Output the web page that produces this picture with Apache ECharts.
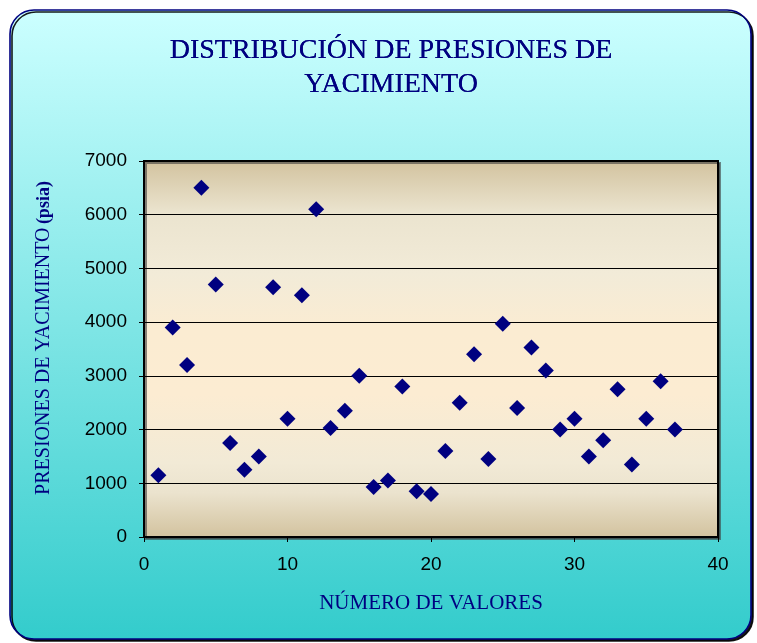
<!DOCTYPE html>
<html>
<head>
<meta charset="utf-8">
<style>
  html, body { margin: 0; padding: 0; background: #ffffff; }
  #chart { width: 757px; height: 643px; }
</style>
<script src="https://cdn.jsdelivr.net/npm/echarts@6/dist/echarts.min.js"></script>
</head>
<body>
<div id="chart"></div>
<script>
// Número de valor (1..37) y presión de yacimiento medida (psia)
const valueNumbers = [1, 2, 3, 4, 5, 6, 7, 8, 9, 10, 11, 12, 13, 14, 15, 16, 17, 18, 19, 20,
  21, 22, 23, 24, 25, 26, 27, 28, 29, 30, 31, 32, 33, 34, 35, 36, 37];
const pressures = [1150, 3900, 3200, 6500, 4700, 1750, 1250, 1500, 4650, 2200,
  4500, 6100, 2030, 2350, 3000, 930, 1050, 2800, 850, 800,
  1600, 2500, 3400, 1450, 3970, 2400, 3530, 3100, 2000, 2200,
  1500, 1800, 2750, 1350, 2200, 2900, 2000];

const titleLines = ['DISTRIBUCIÓN DE PRESIONES DE', 'YACIMIENTO'];
const xAxisTitle = 'NÚMERO DE VALORES';
const yAxisTitle = 'PRESIONES DE YACIMIENTO';
const yAxisUnit = '(psia)';

const points = valueNumbers.map((n, i) => [n, pressures[i]]);

const serif = '"Liberation Serif", "DejaVu Serif", serif';
const sans = '"Liberation Sans", Arial, sans-serif';
const navy = '#000080';

const chart = echarts.init(document.getElementById('chart'), null, { renderer: 'canvas' });

chart.setOption({
  animation: false,
  backgroundColor: '#ffffff',
  graphic: [
    {
      type: 'rect',
      z: -10,
      shape: { x: 10, y: 10, width: 741, height: 629, r: 24 },
      style: {
        fill: new echarts.graphic.LinearGradient(0, 0, 0, 1, [
          { offset: 0, color: '#ccffff' },
          { offset: 1, color: '#33cccc' }
        ]),
        stroke: navy,
        lineWidth: 1.6,
        shadowColor: 'rgba(0,0,0,0.9)',
        shadowOffsetX: 2,
        shadowOffsetY: 2,
        shadowBlur: 0
      }
    }
  ],
  title: {
    text: titleLines.join('\n'),
    left: 386,
    textAlign: 'center',
    top: 29,
    textStyle: {
      fontFamily: serif,
      fontSize: 28,
      fontWeight: 'normal',
      color: navy,
      lineHeight: 34,
      textShadowColor: navy,
      textShadowBlur: 0.6
    }
  },
  grid: {
    left: 144,
    right: 39,
    top: 161,
    bottom: 106,
    show: true,
    borderColor: '#000000',
    borderWidth: 2,
    shadowColor: 'rgba(60,60,60,0.6)',
    shadowOffsetX: 2,
    shadowOffsetY: 2,
    backgroundColor: new echarts.graphic.LinearGradient(0, 0, 0, 1, [
      { offset: 0, color: '#d2c29e' },
      { offset: 0.14, color: '#ebe4cf' },
      { offset: 0.3, color: '#f2ebd8' },
      { offset: 0.45, color: '#fbecd2' },
      { offset: 0.62, color: '#fcecd2' },
      { offset: 0.8, color: '#f2ead6' },
      { offset: 0.88, color: '#ebe3ce' },
      { offset: 1, color: '#d2c29e' }
    ])
  },
  xAxis: {
    type: 'value',
    min: 0,
    max: 40,
    interval: 10,
    name: xAxisTitle,
    nameLocation: 'middle',
    nameGap: 56,
    nameTextStyle: { fontFamily: serif, fontSize: 21, color: navy },
    axisLine: { show: true, onZero: false, lineStyle: { color: '#000', width: 2 } },
    axisTick: { show: true, inside: false, length: 5, lineStyle: { color: '#000', width: 1 } },
    axisLabel: { fontFamily: sans, fontSize: 19, color: '#000', margin: 18 },
    splitLine: { show: false }
  },
  yAxis: {
    type: 'value',
    min: 0,
    max: 7000,
    interval: 1000,
    name: '{a|' + yAxisTitle + '} {b|' + yAxisUnit + '}',
    nameLocation: 'middle',
    nameRotate: 90,
    nameGap: 90,
    nameTextStyle: {
      color: navy,
      padding: [0, 0, 0, 22],
      rich: {
        a: { fontFamily: serif, fontSize: 20, color: navy },
        b: { fontFamily: serif, fontSize: 18, fontWeight: 'bold', color: navy }
      }
    },
    axisLine: { show: true, onZero: false, lineStyle: { color: '#000', width: 2 } },
    axisTick: { show: true, inside: false, length: 5, lineStyle: { color: '#000', width: 1 } },
    axisLabel: {
      fontFamily: sans, fontSize: 19, color: '#000', margin: 17,
      formatter: (v) => String(v)
    },
    splitLine: { show: true, lineStyle: { color: '#000', width: 1.2 } }
  },
  series: [
    {
      type: 'scatter',
      data: points,
      symbol: 'diamond',
      symbolSize: 16,
      itemStyle: { color: navy, opacity: 1 },
      z: 5
    }
  ]
});
</script>
</body>
</html>
